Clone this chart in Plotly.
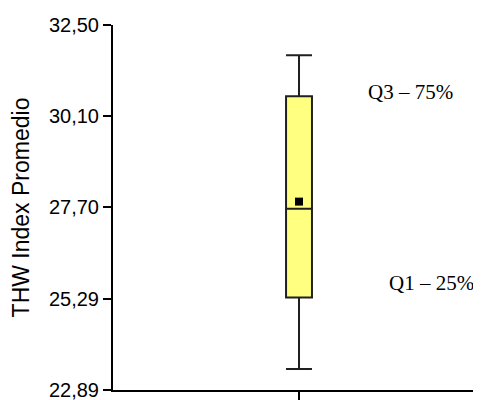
import plotly.graph_objects as go

# Resumen del diagrama de caja (THW Index Promedio)
categoria = ['THW']
minimo = [23.44]
q1 = [25.32]
mediana = [27.66]
q3 = [30.63]
maximo = [31.71]
media = [27.85]

ticks_y = [22.89, 25.29, 27.70, 30.10, 32.50]
etiquetas_q = ['Q3 – 75%', 'Q1 – 25%']
y_etiquetas = [30.74, 25.71]

fig = go.Figure()
fig.add_trace(go.Box(
    x=[0], q1=q1, median=mediana, q3=q3,
    lowerfence=minimo, upperfence=maximo,
    name=categoria[0], width=0.072, whiskerwidth=1,
    fillcolor='#FFFF80',
    line=dict(color='#202020', width=2),
    showlegend=False, hoverinfo='y',
))
fig.add_trace(go.Scatter(
    x=[0], y=media, mode='markers',
    marker=dict(symbol='square', size=8, color='black'),
    showlegend=False,
))

for txt, yv, xp in zip(etiquetas_q, y_etiquetas, [0.825, 0.885]):
    fig.add_annotation(
        text=txt, x=xp, xref='paper', xanchor='center',
        y=yv, yref='y', yanchor='middle',
        showarrow=False,
        font=dict(family='Liberation Serif', size=21, color='black'),
    )

# la página añade 8 px de margen alrededor de la figura
fig.update_layout(
    width=465, height=392, autosize=False,
    template='simple_white',
    separators=',.',
    margin=dict(l=105, r=0, t=17, b=10),
    font=dict(family='Liberation Sans', size=20, color='black'),
    plot_bgcolor='white', paper_bgcolor='white',
)
fig.update_xaxes(
    range=[-0.5167, 0.4833], tickvals=[0], ticktext=[''],
    showline=True, linecolor='black', linewidth=2,
    ticks='outside', ticklen=8, tickwidth=2, tickcolor='black',
    showgrid=False, zeroline=False, automargin=False,
)
fig.update_yaxes(
    range=[22.885, 32.505], tickvals=ticks_y, tickformat='.2f',
    title=dict(text='THW Index Promedio', font=dict(size=23), standoff=15),
    showline=True, linecolor='black', linewidth=2,
    ticks='outside', ticklen=8, tickwidth=2, tickcolor='black',
    ticklabeloverflow='allow',
    showgrid=False, zeroline=False, automargin=False,
)

fig.write_html('out.html')
